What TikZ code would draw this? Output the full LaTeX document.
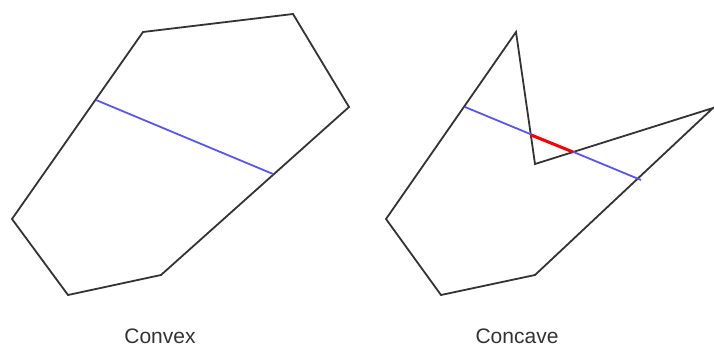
\documentclass[tikz,border=0pt]{standalone}
\usepackage{fontspec}
\setmainfont{Liberation Sans}
\definecolor{edgegray}{HTML}{333333}
\definecolor{lineblue}{HTML}{5555FF}
\begin{document}
\begin{tikzpicture}[x=1pt,y=-1pt,
  poly/.style={draw=edgegray,line width=1.8pt,line join=miter},
  chord/.style={draw=lineblue,line width=1.8pt},
  outside/.style={draw=red,line width=3pt},
  caption/.style={font=\fontsize{21}{24}\selectfont,text=edgegray,inner sep=0pt}]
\useasboundingbox (0,0) rectangle (714,347);
% convex polygon
\coordinate (a1) at (143,32);
\coordinate (a2) at (293,14);
\coordinate (a3) at (349,107);
\coordinate (a4) at (161,275);
\coordinate (a5) at (68,295);
\coordinate (a6) at (12,219);
\coordinate (b1) at (96,100);
\coordinate (b2) at (273,174);
\draw[poly] (a1) -- (a2) -- (a3) -- (a4) -- (a5) -- (a6) -- cycle;
\draw[chord] (b1) -- (b2);
% concave polygon
\coordinate (c1) at (516,32);
\coordinate (c2) at (535,164);
\coordinate (c3) at (713,108);
\coordinate (c4) at (535,275);
\coordinate (c5) at (441,295);
\coordinate (c6) at (386,219);
\coordinate (d1) at (465,107);
\coordinate (d2) at (641,180);
\coordinate (r1) at (531,135);
\coordinate (r2) at (573,152);
\draw[poly] (c1) -- (c2) -- (c3) -- (c4) -- (c5) -- (c6) -- cycle;
\draw[chord] (d1) -- (d2);
\draw[outside] (r1) -- (r2);
% captions
\node[caption] (t1) at (160,336) {Convex};
\node[caption] (t2) at (517,336) {Concave};
\end{tikzpicture}
\end{document}
